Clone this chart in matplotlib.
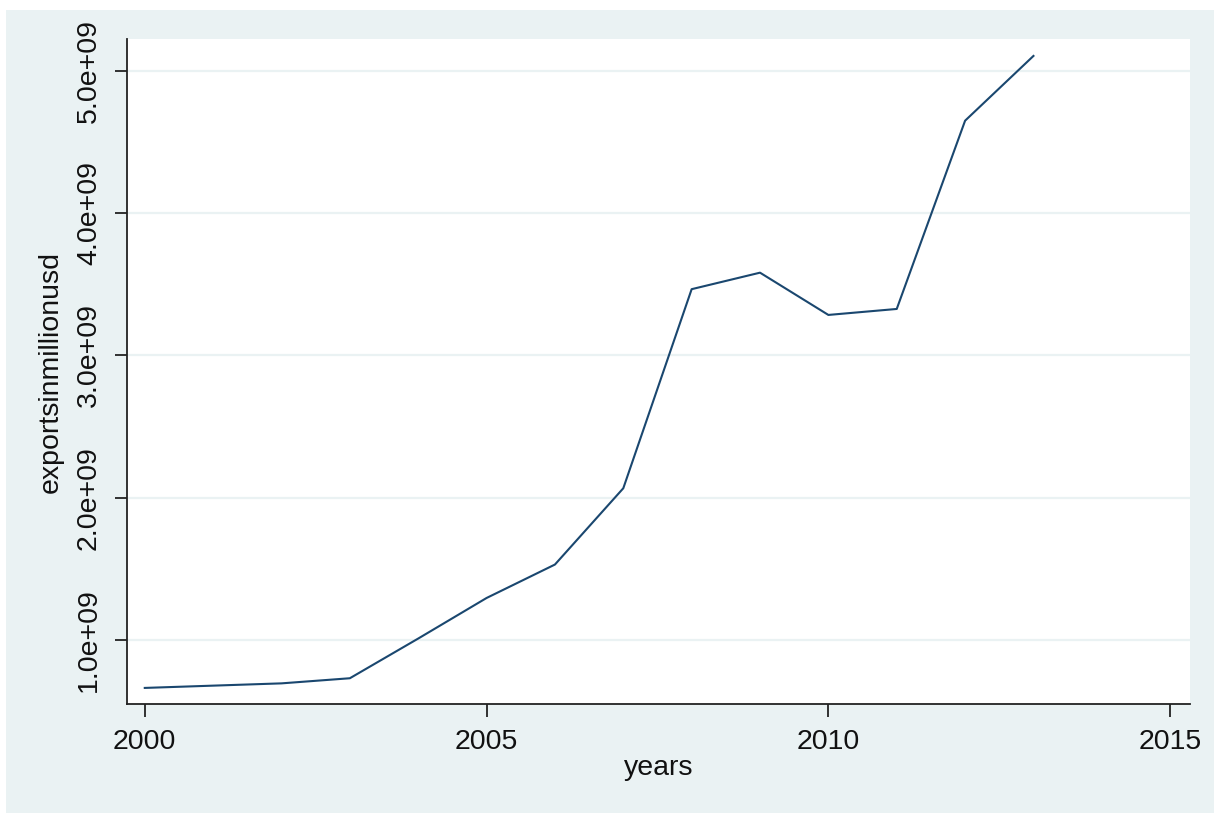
import matplotlib
matplotlib.use("Agg")
import matplotlib.pyplot as plt
from matplotlib.patches import Rectangle
from matplotlib.ticker import FixedLocator

plt.rcParams['font.family'] = ['Liberation Sans', 'DejaVu Sans']

years = [2000, 2001, 2002, 2003, 2004, 2005, 2006, 2007, 2008, 2009, 2010, 2011, 2012, 2013]
exports = [0.663e9, 0.679e9, 0.695e9, 0.731e9, 1.01e9, 1.295e9, 1.53e9, 2.066e9,
           3.465e9, 3.581e9, 3.284e9, 3.326e9, 4.649e9, 5.104e9]
x_ticks = [2000, 2005, 2010, 2015]
y_ticks = [1e9, 2e9, 3e9, 4e9, 5e9]
y_tick_labels = ["1.0e+09", "2.0e+09", "3.0e+09", "4.0e+09", "5.0e+09"]

W, H = 1214, 813
fig = plt.figure(figsize=(W / 100, H / 100), dpi=100)
fig.patch.set_facecolor('white')
bg = '#EAF2F3'
fig.patches.append(Rectangle((6 / W, 0), 1 - 6 / W, (H - 10) / H,
                             transform=fig.transFigure, facecolor=bg,
                             edgecolor='none', zorder=-10))

ax = fig.add_axes([127 / W, (H - 704) / H, (1190 - 127) / W, (704 - 39) / H])
ax.set_facecolor('white')
ax.plot(years, exports, color='#1A476F', lw=1.5, zorder=3)

ax.set_xlim(1999.74, 2015.29)
ax.set_ylim(0.55e9, 5.223e9)

ax.xaxis.set_major_locator(FixedLocator(x_ticks))
ax.yaxis.set_major_locator(FixedLocator(y_ticks))
ax.set_yticklabels(y_tick_labels, rotation=90, va='center')
ax.set_xticklabels([str(v) for v in x_ticks])

ax.grid(axis='y', color='#EAF2F3', lw=1.6, zorder=1)
ax.grid(axis='x', visible=False)

for s in ['top', 'right']:
    ax.spines[s].set_visible(False)
for s in ['left', 'bottom']:
    ax.spines[s].set_color('#222222')
    ax.spines[s].set_linewidth(1.3)

ax.tick_params(axis='both', direction='out', length=9, width=1.3, color='#222222',
               labelsize=20.5, labelcolor='#111111')
ax.tick_params(axis='x', pad=9)
ax.tick_params(axis='y', pad=9)

ax.set_xlabel('years', fontsize=20.5, color='#111111', labelpad=0)
ax.set_ylabel('exportsinmillionusd', fontsize=20.5, color='#111111', labelpad=9)

fig.savefig('out.png', dpi=100, facecolor=fig.get_facecolor())
